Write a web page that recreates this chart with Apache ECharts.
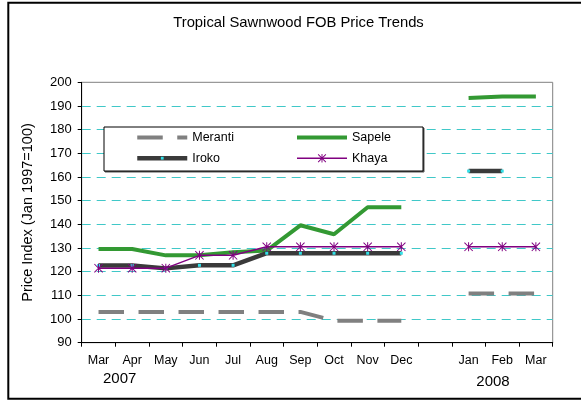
<!DOCTYPE html>
<html>
<head>
<meta charset="utf-8">
<script src="https://cdn.jsdelivr.net/npm/echarts@6/dist/echarts.min.js"></script>
<style>
  html, body { margin: 0; padding: 0; background: #fff; }
  #main { width: 581px; height: 402px; }
</style>
</head>
<body>
<div id="main"></div>
<script>
// months along the axis, with an empty slot between Dec 2007 and Jan 2008
const months = ['Mar', 'Apr', 'May', 'Jun', 'Jul', 'Aug', 'Sep', 'Oct', 'Nov', 'Dec', '', 'Jan', 'Feb', 'Mar'];
const yTicks = [90, 100, 110, 120, 130, 140, 150, 160, 170, 180, 190, 200];

const meranti = [103, 103, 103, 103, 103, 103, 103, 99.3, 99.3, 99.3, null, 110.8, 110.8, 110.8];
const sapele  = [129.6, 129.6, 126.9, 126.9, 128.2, 128.9, 139.6, 135.8, 147.2, 147.2, null, 193.4, 194, 194];
const iroko   = [122.6, 122.6, 121.4, 122.7, 122.7, 127.8, 127.8, 127.8, 127.8, 127.8, null, 162.5, 162.5, null];
const khaya   = [121.5, 121.5, 121.5, 126.9, 126.9, 130.5, 130.5, 130.5, 130.5, 130.5, null, 130.5, 130.5, 130.5];

const FONT = 'Liberation Sans, Arial, sans-serif';

// marker paths carry empty moveTo corners so the visible mark stays small
// inside its box (the legend draws symbols at 80% of itemHeight)
const squarePath = 'path://M0,0M12,12M4.5,4.5L7.5,4.5L7.5,7.5L4.5,7.5Z';
const starPath = 'path://M0,0M12,12' +
  'M5.5,1.5L6.5,1.5L6.5,10.5L5.5,10.5Z' +
  'M1.5,2.2L2.2,1.5L10.5,9.8L9.8,10.5Z' +
  'M9.8,1.5L10.5,2.2L2.2,10.5L1.5,9.8Z';

const chart = echarts.init(document.getElementById('main'));

const legendText = { fontFamily: FONT, fontSize: 12.5, color: '#000' };

const option = {
  backgroundColor: '#fff',
  animation: false,
  textStyle: { fontFamily: FONT, color: '#000' },
  title: {
    text: 'Tropical Sawnwood FOB Price Trends',
    left: 293.5,
    top: 10,
    textAlign: 'center',
    textStyle: { fontFamily: FONT, fontSize: 14.8, fontWeight: 'normal', color: '#000' }
  },
  legend: [
    {
      data: [
        { name: 'Meranti', itemStyle: { opacity: 0 }, lineStyle: { width: 4 } },
        { name: 'Iroko', lineStyle: { width: 4.5 } }
      ],
      orient: 'vertical',
      left: 135,
      top: 131,
      padding: 0,
      itemWidth: 50,
      itemHeight: 14,
      itemGap: 7.7,
      z: 5,
      textStyle: legendText
    },
    {
      data: [
        { name: 'Sapele', itemStyle: { opacity: 0 }, lineStyle: { width: 4 } },
        { name: 'Khaya', lineStyle: { width: 1.5 } }
      ],
      orient: 'vertical',
      left: 295,
      top: 131,
      padding: 0,
      itemWidth: 50,
      itemHeight: 14,
      itemGap: 7.7,
      z: 5,
      textStyle: legendText
    }
  ],
  grid: {
    left: 81.7,
    right: 28.3,
    top: 82.3,
    bottom: 59.3,
    show: true,
    borderColor: '#808080',
    borderWidth: 1
  },
  xAxis: {
    type: 'category',
    data: months,
    boundaryGap: true,
    axisLine: { lineStyle: { color: '#000', width: 1 } },
    axisTick: { show: true, length: 4, inside: false, lineStyle: { color: '#000' } },
    axisLabel: { fontFamily: FONT, fontSize: 12.5, color: '#000', margin: 11, interval: 0 },
    splitLine: { show: false }
  },
  yAxis: {
    type: 'value',
    min: yTicks[0],
    max: yTicks[yTicks.length - 1],
    interval: 10,
    name: 'Price Index (Jan 1997=100)',
    nameLocation: 'middle',
    nameGap: 46,
    nameTextStyle: { fontFamily: FONT, fontSize: 14.5, color: '#000' },
    axisLine: { show: true, lineStyle: { color: '#000', width: 1 } },
    axisTick: { show: true, length: 4, inside: false, lineStyle: { color: '#000' } },
    axisLabel: { fontFamily: FONT, fontSize: 13, color: '#000', margin: 10 },
    splitLine: {
      show: true,
      showMinLine: false,
      showMaxLine: false,
      lineStyle: { color: '#40c8c8', width: 1, type: [9, 6] }
    }
  },
  graphic: [
    {
      type: 'rect',
      z: 100,
      silent: true,
      shape: { x: 8.3, y: 2.8, width: 600, height: 396 },
      style: { fill: 'none', stroke: '#000', lineWidth: 2 }
    },
    {
      type: 'rect',
      z: 3,
      silent: true,
      shape: { x: 105, y: 128, width: 319, height: 44 },
      style: { fill: '#555', stroke: '#555', lineWidth: 1 }
    },
    {
      type: 'rect',
      z: 3,
      silent: true,
      shape: { x: 104, y: 127, width: 319, height: 44 },
      style: { fill: '#fff', stroke: '#000', lineWidth: 1 }
    },
    {
      type: 'text',
      x: 119.7,
      y: 379,
      style: { text: '2007', font: '15px ' + FONT, fill: '#000', align: 'center', verticalAlign: 'middle' }
    },
    {
      type: 'text',
      x: 493,
      y: 381.5,
      style: { text: '2008', font: '15px ' + FONT, fill: '#000', align: 'center', verticalAlign: 'middle' }
    }
  ],
  series: [
    {
      name: 'Meranti',
      type: 'line',
      data: meranti,
      symbol: 'none',
      connectNulls: false,
      itemStyle: { color: '#808080' },
      lineStyle: { color: '#808080', width: 4, type: [25.5, 14.5], cap: 'butt' },
      z: 2
    },
    {
      name: 'Sapele',
      type: 'line',
      data: sapele,
      symbol: 'none',
      connectNulls: false,
      itemStyle: { color: '#339933' },
      lineStyle: { color: '#339933', width: 4 },
      z: 2
    },
    {
      name: 'Iroko',
      type: 'line',
      data: iroko,
      symbol: squarePath,
      symbolSize: 12,
      showSymbol: true,
      connectNulls: false,
      itemStyle: { color: '#33e0e8' },
      lineStyle: { color: '#3a3a3a', width: 4.5 },
      z: 2
    },
    {
      name: 'Khaya',
      type: 'line',
      data: khaya,
      symbol: starPath,
      symbolSize: 12,
      showSymbol: true,
      connectNulls: false,
      itemStyle: { color: '#800080' },
      lineStyle: { color: '#800080', width: 1.5 },
      z: 3
    }
  ]
};

chart.setOption(option);
</script>
</body>
</html>
